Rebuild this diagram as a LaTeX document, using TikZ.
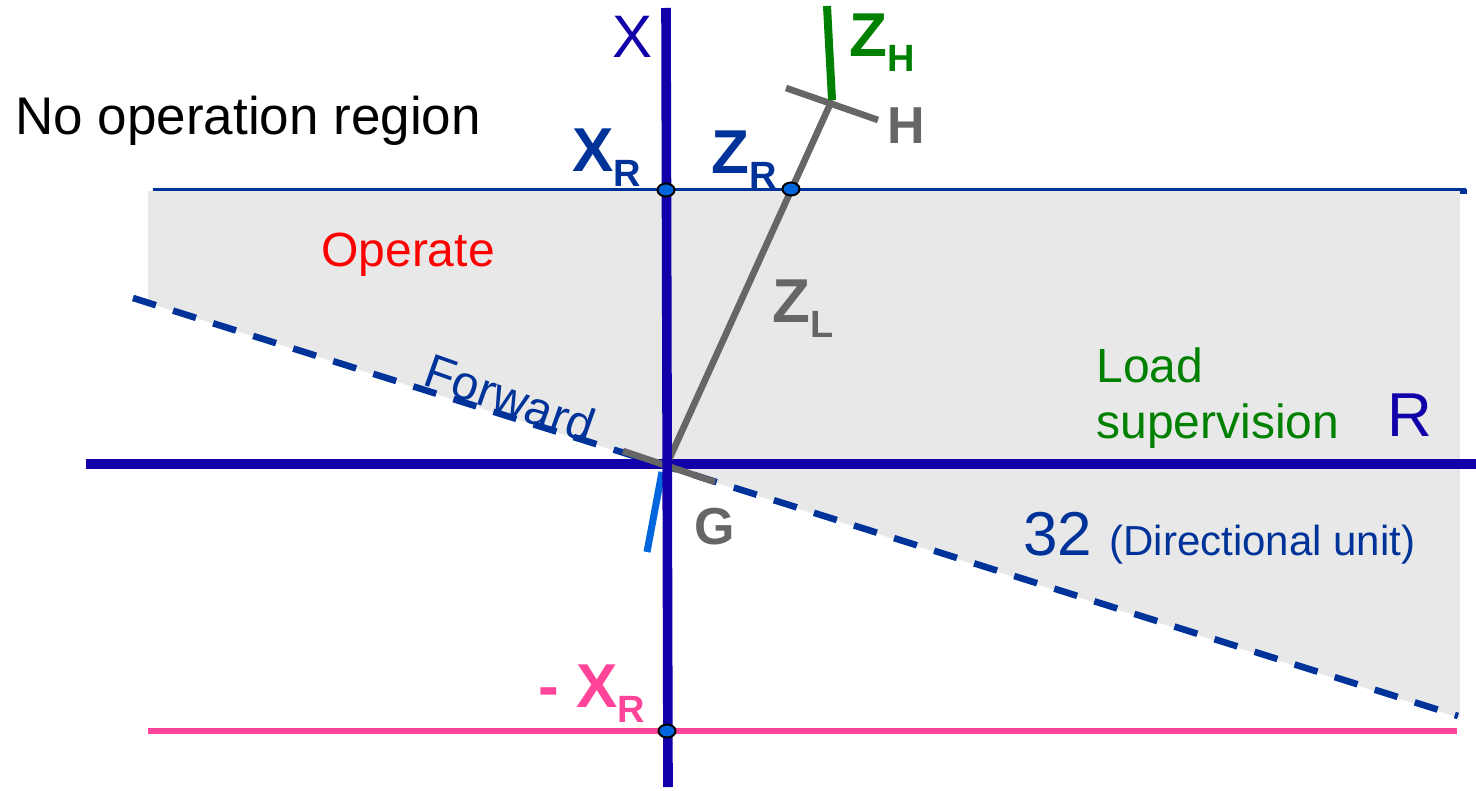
\documentclass[tikz,border=0pt]{standalone}
\usepackage{fontspec}
\setmainfont{Liberation Sans}
\usepackage{xcolor}
\usetikzlibrary{positioning,shapes.geometric}
\definecolor{axisblue}{HTML}{1100AA}
\definecolor{darkblue}{HTML}{003399}
\definecolor{linegray}{HTML}{666666}
\definecolor{zonegray}{HTML}{E8E8E8}
\definecolor{loadgreen}{HTML}{008000}
\definecolor{negpink}{HTML}{FF4499}
\definecolor{dotblue}{HTML}{0066DD}
\newcommand{\fsz}[1]{\fontsize{#1}{#1}\selectfont}
\newcommand{\lowsub}[1]{\lower7.5pt\hbox{\fsz{19}#1}}

\begin{document}
\begin{tikzpicture}[x=0.5pt,y=-0.5pt,
    axis/.style={draw=axisblue,line width=4.8pt},
    reach/.style={draw=darkblue,line width=1.5pt},
    fwd/.style={draw=darkblue,line width=3.3pt,dash pattern=on 12pt off 9pt},
    imp/.style={draw=linegray,line width=3.3pt},
    dot/.style={ellipse,draw=black,line width=1pt,fill=dotblue,inner sep=0pt,
                minimum width=8.5pt,minimum height=6.5pt},
    lbl/.style={inner sep=0pt,anchor=base west}]
  \useasboundingbox (0,0) rectangle (1476,791);

  % characteristic zone
  \fill[zonegray] (148,191) -- (1460,191) -- (1460,718) -- (148,303) -- cycle;

  \coordinate (O)    at (667,464);
  \coordinate (H)    at (832,100);
  \coordinate (xrW)  at (153,190);
  \coordinate (xrE)  at (1466,190);
  \coordinate (nxW)  at (148,731);
  \coordinate (nxE)  at (1457,731);
  \coordinate (fwdA) at (133,298);
  \coordinate (fwdB) at (1458,716);
  \coordinate (rW)   at (86,464);
  \coordinate (rE)   at (1476,464);
  \coordinate (xN)   at (666,8);
  \coordinate (xS)   at (668,787);

  \draw[reach] (xrW) -- (xrE);
  \draw[darkblue,line width=2.4pt] (1460,191.5) -- (1467,191.5);
  \draw[draw=negpink,line width=3pt] (nxW) -- (nxE);
  \draw[fwd] (fwdA) -- (fwdB);
  \draw[axis] (rW) -- (rE);

  % line impedance
  \draw[imp] (O) -- (H);
  \draw[imp] (786,88) -- (878,120);
  \draw[imp] (623,451) -- (715,482);
  \draw[draw=loadgreen,line width=4pt] (H) -- (827,6);
  \draw[draw=dotblue,line width=3.5pt] (662,472) -- (647,552);
  \draw[axis] (xN) -- (xS);

  \node[dot] (xr)  at (666,190) {};
  \node[dot] (zr)  at (791,189) {};
  \node[dot] (nxr) at (667,731) {};

  % labels
  \node[lbl,text=axisblue] (xlbl) at (612,58) {\fsz{30}X};
  \node[lbl,text=axisblue] (rlbl) at (1387,436) {\fsz{31}R};
  \node[lbl] (noop) at (15,135) {\fsz{26.5}No operation region};
  \node[lbl,text=darkblue] (xrlbl) at (572,172)
        {\fsz{31}\bfseries X\lowsub{R}};
  \node[lbl,text=darkblue] (zrlbl) at (711,174)
        {\fsz{31}\bfseries Z\lowsub{R}};
  \node[lbl,text=loadgreen] (zhlbl) at (849,57)
        {\fsz{31}\bfseries Z\lowsub{H}};
  \node[lbl,text=linegray] (hlbl) at (887,144) {\fsz{26}\bfseries H};
  \node[lbl,text=linegray] (glbl) at (694,544) {\fsz{26}\bfseries G};
  \node[lbl,text=linegray] (zllbl) at (772,322)
        {\fsz{31}\bfseries Z\lowsub{L}};
  \node[text=red,inner sep=0pt] (oplbl) at (408,255) {\fsz{24}Operate};
  \node[text=darkblue,inner sep=0pt,rotate=-19.5] (fwlbl) at (510,398)
        {\fsz{24}Forward};
  \node[lbl,text=loadgreen,align=left,font=\fontsize{24}{28}\selectfont]
        (ldlbl) at (1096,438) {Load\\supervision};
  \node[lbl,text=darkblue] (dirlbl) at (1023,555)
        {\fsz{31}32 \fsz{21}(Directional unit)};
  \node[lbl,text=negpink] (nxlbl) at (538,707)
        {\fsz{31}\bfseries - X\lowsub{R}};
\end{tikzpicture}
\end{document}
